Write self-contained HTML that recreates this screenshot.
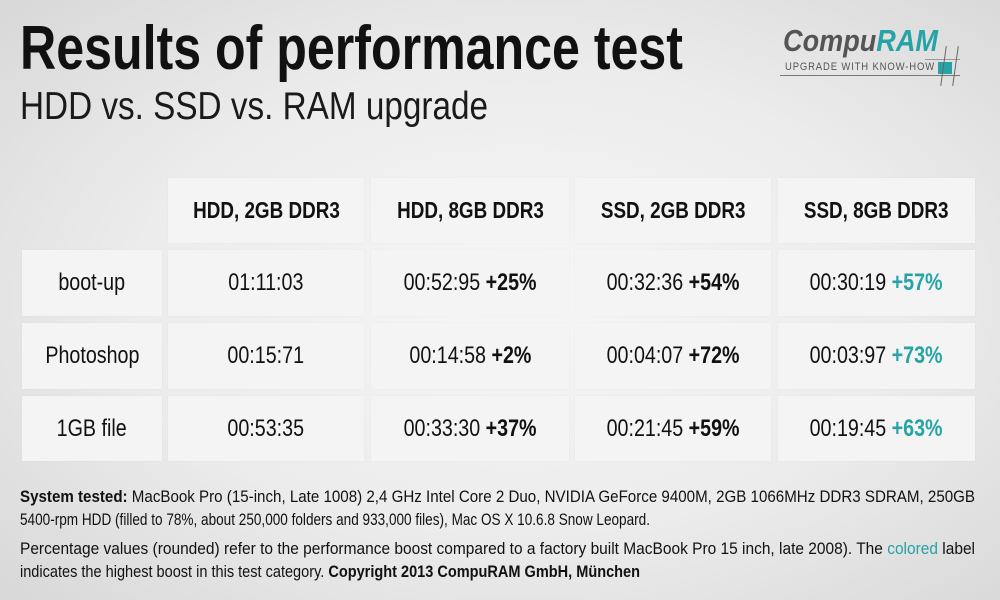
<!DOCTYPE html>
<html><head><meta charset="utf-8">
<style>
html,body{margin:0;padding:0}
body{width:1000px;height:600px;overflow:hidden;position:relative;font-family:"Liberation Sans",sans-serif;color:#111;
background:radial-gradient(ellipse 700px 420px at 520px 300px,#f6f6f6 0%,#ececec 55%,#d9d9d9 100%);}
.t{position:absolute;white-space:nowrap;transform-origin:0 0;line-height:1}
.cell{position:absolute;background:#f4f4f4;box-shadow:0 0 2px rgba(0,0,0,0.04);display:flex;align-items:center;justify-content:center}
.cell span{display:inline-block;white-space:nowrap;font-size:24px;line-height:1}
.hd span{font-weight:bold;font-size:23px}
.teal{color:#26a3a6}
b{font-weight:bold}
</style></head><body>
<div class="t" data-w="663" style="left:20px;top:18px;font-size:62px;font-weight:bold;color:#111">Results of performance test</div>
<div class="t" data-w="468" style="left:20px;top:87px;font-size:39px;color:#1a1a1a">HDD vs. SSD vs. RAM upgrade</div>

<div style="position:absolute;left:780px;top:22px;width:210px;height:60px">
  <div class="t" data-w="155" style="left:3px;top:3px;font-size:31px;font-weight:bold;font-style:italic;color:#555">Compu<span style="color:#26a3a6">RAM</span></div>
  <div class="t" data-w="150" style="left:5px;top:40px;font-size:11px;letter-spacing:1px;color:#555">UPGRADE WITH KNOW-HOW</div>
  <div style="position:absolute;left:0;top:53px;width:180px;height:1px;background:#777"></div>
  <div style="position:absolute;left:145px;top:37px;width:35px;height:1px;background:#999"></div>
  <div style="position:absolute;left:158px;top:40px;width:14px;height:12px;background:#26a3a6"></div>
  <div style="position:absolute;left:163px;top:24px;width:1px;height:40px;background:#666;transform:rotate(8deg)"></div>
  <div style="position:absolute;left:175px;top:24px;width:1px;height:40px;background:#666;transform:rotate(8deg)"></div>
</div>

<div id="table"></div>

<div class="t" data-w="955" style="left:20px;top:488px;font-size:17px"><b>System tested:</b> MacBook Pro (15-inch, Late 1008) 2,4 GHz Intel Core 2 Duo, NVIDIA GeForce 9400M, 2GB 1066MHz DDR3 SDRAM, 250GB</div>
<div class="t" data-w="630" style="left:20px;top:511px;font-size:17px">5400-rpm HDD (filled to 78%, about 250,000 folders and 933,000 files), Mac OS X 10.6.8 Snow Leopard.</div>
<div class="t" data-w="955" style="left:20px;top:540px;font-size:17px">Percentage values (rounded) refer to the performance boost compared to a factory built MacBook Pro 15 inch, late 2008). The <span class="teal">colored</span> label</div>
<div class="t" data-w="620" style="left:20px;top:563px;font-size:17px">indicates the highest boost in this test category. <b>Copyright 2013 CompuRAM GmbH, München</b></div>

<script>
const columns=["HDD, 2GB DDR3","HDD, 8GB DDR3","SSD, 2GB DDR3","SSD, 8GB DDR3"];
const rowLabels=["boot-up","Photoshop","1GB file"];
const times=[["01:11:03","00:52:95","00:32:36","00:30:19"],["00:15:71","00:14:58","00:04:07","00:03:97"],["00:53:35","00:33:30","00:21:45","00:19:45"]];
const boosts=[["","+25%","+54%","+57%"],["","+2%","+72%","+73%"],["","+37%","+59%","+63%"]];
const colX=[22,168,371,575,778], colW=[140,196,198,196,197];
const rowY=[178,250,323,396], rowH=[65,66,66,65];
const tb=document.getElementById('table');
function cell(x,y,w,h,html,name,cls){
  const d=document.createElement('div');
  d.className='cell '+(cls||'');
  d.style.left=x+'px';d.style.top=y+'px';d.style.width=w+'px';d.style.height=h+'px';
  d.innerHTML='<span>'+html+'</span>';
  
  
  tb.appendChild(d);return d;
}
columns.forEach((c,i)=>cell(colX[i+1],rowY[0],colW[i+1],rowH[0],c,'header-cell','hd'));
rowLabels.forEach((r,ri)=>{
  cell(colX[0],rowY[ri+1],colW[0],rowH[ri+1],r,'row-label');
  times[ri].forEach((t,ci)=>{
    let html=t;
    if(boosts[ri][ci]){
      const best=boosts[ri].reduce((m,v)=>Math.max(m,parseFloat(v)||0),0);
      const isBest=parseFloat(boosts[ri][ci])===best;
      html+=' <b'+(isBest?' class="teal"':'')+'>'+boosts[ri][ci]+'</b>';
    }
    cell(colX[ci+1],rowY[ri+1],colW[ci+1],rowH[ri+1],html,'data-cell');
  });
});
document.querySelectorAll('.cell span').forEach(s=>{s.style.transform='scaleX(0.82)';});
document.querySelectorAll('[data-w]').forEach(e=>{
  const w=e.getBoundingClientRect().width, tw=+e.getAttribute('data-w');
  if(w>0)e.style.transform='scaleX('+(tw/w)+')';
});
</script>
</body></html>
